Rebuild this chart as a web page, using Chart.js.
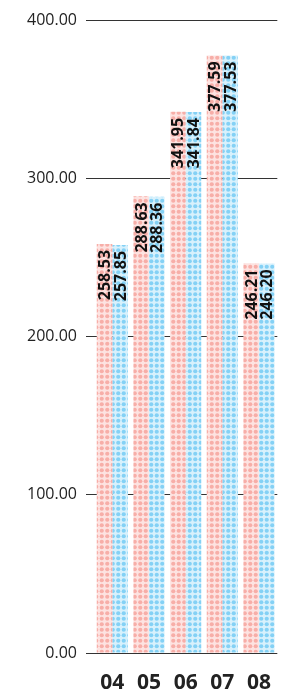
<!DOCTYPE html>
<html>
<head>
<meta charset="utf-8">
<script src="https://cdn.jsdelivr.net/npm/chart.js@4.4.1/dist/chart.umd.min.js"></script>
<style>
  html, body { margin: 0; padding: 0; background: #ffffff; }
  #wrap { width: 288px; height: 691px; }
</style>
</head>
<body>
<div id="wrap"><canvas id="c" width="288" height="691"></canvas></div>
<script>
const categories = ['04', '05', '06', '07', '08'];
const seriesA = [258.53, 288.63, 341.95, 377.59, 246.21];
const seriesB = [257.85, 288.36, 341.84, 377.53, 246.20];
const yTicks = [0, 100, 200, 300, 400];

function makePattern(bg, dot) {
  const size = 11;
  const c = document.createElement('canvas');
  c.width = size; c.height = size;
  const g = c.getContext('2d');
  g.fillStyle = bg;
  g.fillRect(0, 0, size, size);
  g.fillStyle = dot;
  const step = size / 2;
  for (let i = 0; i < 2; i++) {
    for (let j = 0; j < 2; j++) {
      g.beginPath();
      g.arc(step * i + step / 2, step * j + step / 2, 2.1, 0, Math.PI * 2);
      g.fill();
    }
  }
  return document.getElementById('c').getContext('2d').createPattern(c, 'repeat');
}

const pinkPattern = makePattern('#fde3e1', '#f7aea8');
const bluePattern = makePattern('#d8f1fc', '#84d1f5');

const valueLabels = {
  id: 'valueLabels',
  afterDatasetsDraw(chart) {
    const ctx = chart.ctx;
    ctx.save();
    ctx.font = 'bold 16px "Open Sans", sans-serif';
    ctx.fillStyle = '#111111';
    ctx.textAlign = 'right';
    ctx.textBaseline = 'middle';
    chart.data.datasets.forEach((ds, di) => {
      const meta = chart.getDatasetMeta(di);
      meta.data.forEach((bar, i) => {
        ctx.save();
        ctx.translate(bar.x, bar.y + 6);
        ctx.rotate(-Math.PI / 2);
        ctx.fillText(ds.data[i].toFixed(2), 0, 1);
        ctx.restore();
      });
    });
    ctx.restore();
  }
};

new Chart(document.getElementById('c'), {
  type: 'bar',
  data: {
    labels: categories,
    datasets: [
      { data: seriesA, backgroundColor: pinkPattern, borderWidth: 0 },
      { data: seriesB, backgroundColor: bluePattern, borderWidth: 0 }
    ]
  },
  options: {
    responsive: false,
    animation: false,
    devicePixelRatio: 1,
    layout: { padding: { top: 20, right: 0, bottom: 0, left: 0 } },
    plugins: { legend: { display: false }, tooltip: { enabled: false } },
    datasets: { bar: { categoryPercentage: 0.85, barPercentage: 1.0 } },
    scales: {
      x: {
        grid: { display: false, drawTicks: false },
        border: { display: false },
        ticks: {
          padding: 17,
          color: '#222222',
          font: { family: '"Liberation Sans Narrow", "Open Sans", sans-serif', size: 21, weight: 'bold' }
        },
        afterFit(scale) { scale.height = 38; }
      },
      y: {
        min: 0,
        max: 400,
        afterBuildTicks(scale) { scale.ticks = yTicks.map(v => ({ value: v })); },
        grid: { color: '#333333', lineWidth: 1, tickLength: 8, drawTicks: true },
        border: { display: false },
        ticks: {
          padding: 9,
          color: '#222222',
          font: { family: '"Open Sans", sans-serif', size: 16 },
          callback: (v) => Number(v).toFixed(2)
        },
        afterFit(scale) { scale.width = 94; }
      }
    }
  },
  plugins: [valueLabels]
});
</script>
</body>
</html>
